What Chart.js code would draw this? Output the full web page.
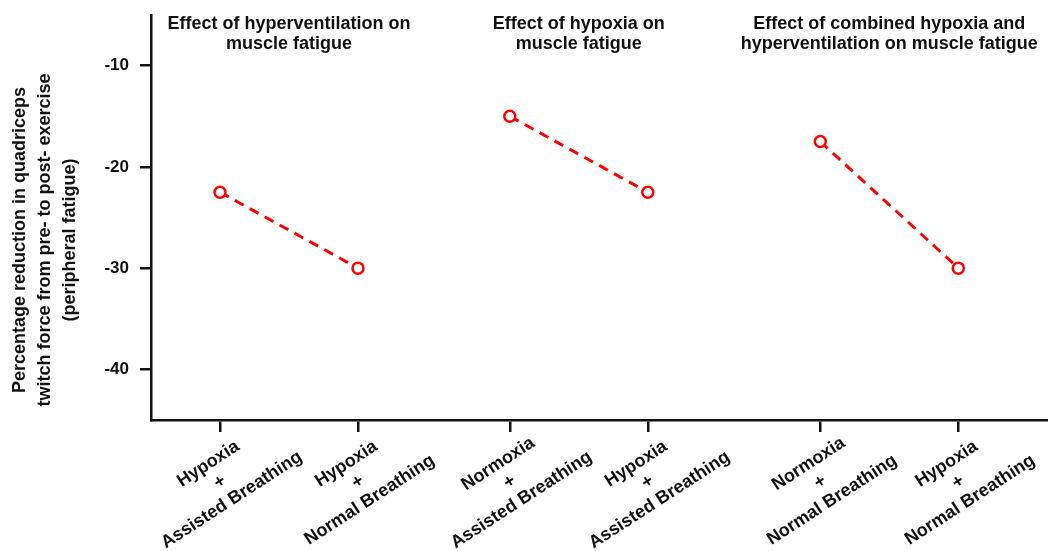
<!DOCTYPE html>
<html>
<head>
<meta charset="utf-8">
<script src="https://cdn.jsdelivr.net/npm/chart.js@4.4.0/dist/chart.umd.min.js"></script>
<style>
    html, body { margin: 0; padding: 0; background: #fff; }
    #wrap { width: 1048px; height: 551px; position: relative; }
</style>
</head>
<body>
<div id="wrap"><canvas id="fatigue-chart"></canvas></div>
<script>
// Breathing condition of each group (three-line labels under the axis)
const conditions = [
    ['Hypoxia', '+', 'Assisted Breathing'],
    ['Hypoxia', '+', 'Normal Breathing'],
    ['Normoxia', '+', 'Assisted Breathing'],
    ['Hypoxia', '+', 'Assisted Breathing'],
    ['Normoxia', '+', 'Normal Breathing'],
    ['Hypoxia', '+', 'Normal Breathing']
];
// % reduction in quadriceps twitch force, pre- to post-exercise
const twitchReduction = [-22.5, -30, -15, -22.5, -17.5, -30];
// Conditions compared against each other, and the heading of each comparison
const comparisonPairs = [[0, 1], [2, 3], [4, 5]];
const comparisonTitles = [
    ['Effect of hyperventilation on', 'muscle fatigue'],
    ['Effect of hypoxia on', 'muscle fatigue'],
    ['Effect of combined hypoxia and', 'hyperventilation on muscle fatigue']
];
const yTicks = [-40, -30, -20, -10];
const yTitle = [
    'Percentage reduction in quadriceps',
    'twitch force from pre- to post- exercise',
    '(peripheral fatigue)'
];

// where each condition sits on the x axis (pairs grouped, with gaps between)
const slots = [0.5, 1.5, 2.6, 3.6, 4.85, 5.85];

const FONT = '"Liberation Sans", Arial, Helvetica, sans-serif';
const INK = '#111';
const RED = '#ff0000';

// headings, slanted category labels and the y title
const annotate = {
    id: 'annotate',
    afterDraw(chart) {
        const { ctx, chartArea } = chart;
        const x = chart.scales.x;
        ctx.save();
        ctx.fillStyle = INK;
        ctx.textAlign = 'center';
        ctx.textBaseline = 'middle';

        ctx.font = 'bold 18px ' + FONT;
        comparisonPairs.forEach((pair, i) => {
            const cx = x.getPixelForValue((slots[pair[0]] + slots[pair[1]]) / 2);
            comparisonTitles[i].forEach((line, j) => ctx.fillText(line, cx, 24 + j * 20));
        });

        conditions.forEach((lines, i) => {
            ctx.save();
            ctx.translate(x.getPixelForValue(slots[i]), chartArea.bottom + 62);
            ctx.rotate(-33 * Math.PI / 180);
            lines.forEach((line, j) => ctx.fillText(line, 0, (j - 1) * 21.5));
            ctx.restore();
        });

        ctx.save();
        ctx.translate(20, 240);
        ctx.rotate(-Math.PI / 2);
        yTitle.forEach((line, j) => ctx.fillText(line, 0, j * 25));
        ctx.restore();

        ctx.restore();
    }
};

const datasets = comparisonPairs.map(pair => ({
    data: pair.map(i => ({ x: slots[i], y: twitchReduction[i] })),
    borderColor: RED,
    borderWidth: 3,
    borderDash: [10, 7],
    pointRadius: 5.5,
    pointBorderWidth: 2.5,
    pointBackgroundColor: '#fff',
    pointBorderColor: RED,
    tension: 0
}));

new Chart(document.getElementById('fatigue-chart'), {
    type: 'line',
    data: { datasets: datasets },
    options: {
        responsive: true,
        maintainAspectRatio: false,
        animation: false,
        layout: { autoPadding: false, padding: { top: 15, left: 0, right: 0, bottom: 0 } },
        plugins: {
            legend: { display: false },
            tooltip: { enabled: false }
        },
        scales: {
            x: {
                type: 'linear',
                min: 0,
                max: 6.5,
                afterBuildTicks: scale => { scale.ticks = slots.map(v => ({ value: v })); },
                afterFit: scale => { scale.height = 131; },
                ticks: { display: false },
                grid: { display: true, drawOnChartArea: false, drawTicks: true, tickLength: 12, color: INK, lineWidth: 2.5 },
                border: { display: true, color: INK, width: 2.5 }
            },
            y: {
                min: -45,
                max: -5,
                afterBuildTicks: scale => { scale.ticks = yTicks.map(v => ({ value: v })); },
                afterFit: scale => {
                    scale.width = 151;
                    // the end ticks sit well inside the axis, no label overhang to reserve
                    scale.paddingTop = 0;
                    scale.paddingBottom = 0;
                },
                ticks: {
                    color: INK,
                    padding: 11,
                    font: { family: FONT, size: 17, weight: 'bold' }
                },
                grid: { display: true, drawOnChartArea: false, drawTicks: true, tickLength: 11, color: INK, lineWidth: 2.5 },
                border: { display: true, color: INK, width: 2.5 }
            }
        }
    },
    plugins: [annotate]
});
</script>
</body>
</html>
